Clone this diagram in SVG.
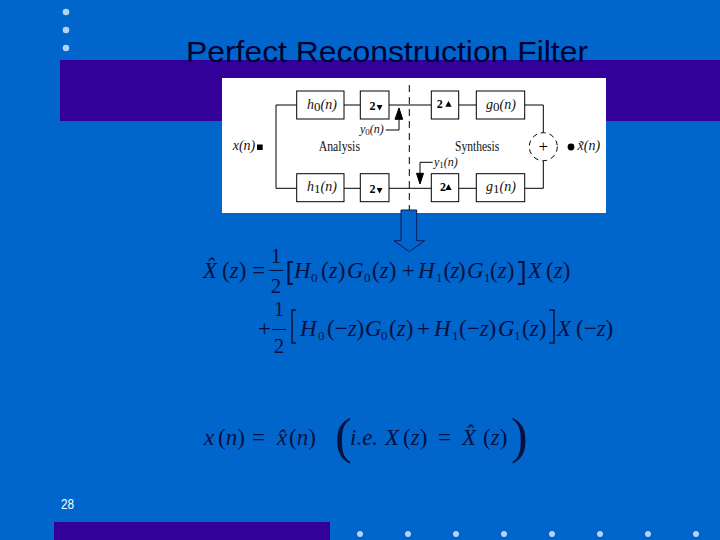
<svg xmlns="http://www.w3.org/2000/svg" width="720" height="540" viewBox="0 0 720 540">
<defs><style>
.dot{fill:#b5d3f0}
.box{fill:#fff;stroke:#000;stroke-width:1}
.ln{fill:none;stroke:#000;stroke-width:1}
.m{font-family:"Liberation Serif",serif;font-size:14px;fill:#111}
.i{font-style:italic}
.b{font-family:"Liberation Serif",serif;font-size:12px;font-weight:bold;fill:#000}
.e{font-family:"Liberation Serif",serif;font-size:23px;fill:#08103f}
.d{font-size:21px}
.u{font-size:13px}
.s{font-size:13px}
</style></defs>
<rect width="720" height="540" fill="#0066cc"/>
<rect x="60" y="60" width="660" height="61" fill="#330099"/>
<rect x="54" y="522" width="276" height="18" fill="#330099"/>
<g id="bullets-top" class="dot"><circle cx="66" cy="12" r="3.3"/><circle cx="66" cy="30" r="3.3"/><circle cx="66" cy="48" r="3.3"/></g>
<g id="bullets-bottom" class="dot"><circle cx="360" cy="534" r="3"/><circle cx="408" cy="534" r="3"/><circle cx="456" cy="534" r="3"/><circle cx="504" cy="534" r="3"/><circle cx="552" cy="534" r="3"/><circle cx="600" cy="534" r="3"/><circle cx="648" cy="534" r="3"/><circle cx="696" cy="534" r="3"/></g>
<text id="title" x="186" y="62" font-family="'Liberation Sans',Arial,sans-serif" font-size="30" fill="#000033" textLength="402" lengthAdjust="spacingAndGlyphs">Perfect Reconstruction Filter</text>
<text id="page" x="61" y="509" font-family="'Liberation Sans',Arial,sans-serif" font-size="14" fill="#fff" textLength="13" lengthAdjust="spacingAndGlyphs">28</text>
<rect id="panel" x="222" y="78" width="384" height="135" fill="#fff"/>
<g id="connectors" class="ln">
<path d="M296.700 105H276V188.300H296.700"/>
<path d="M344 105H360.300M389 105H431.300M458.700 105H476.300M524.700 105H543.300V132.700"/>
<path d="M344 188.300H360.300M389 188.300H431.300M458.700 188.300H476.300M524.700 188.300H543.300V160.700"/>
<path d="M409.300 85V210" stroke-dasharray="7 5"/>
<path d="M385.700 130H399V118"/>
<path d="M432.700 162.300H420V175"/>
<path d="M395 119.300L399 108L402.700 119.300Z" fill="#000"/>
<path d="M416.500 173.300L420 184L423.500 173.300Z" fill="#000"/>
</g>
<g id="h0"><rect class="box" x="296.700" y="91" width="47.300" height="28"/><text class="m i" x="307" y="108.500">h<tspan class="s" dy="2" font-style="normal">0</tspan><tspan dy="-2">(n)</tspan></text></g>
<g id="down-top"><rect class="box" x="360.300" y="91" width="28.700" height="28"/><text class="b" x="369.500" y="110">2</text><path d="M376.700 105H382.500L379.600 110.500Z"/></g>
<g id="up-top"><rect class="box" x="431.300" y="91" width="27.400" height="28"/><text class="b" x="436.700" y="107.500">2</text><path d="M445.300 106.700H451.700L448.500 101Z"/></g>
<g id="g0"><rect class="box" x="476.300" y="91" width="48.400" height="28"/><text class="m i" x="486" y="108.500">g<tspan class="s" dy="2" font-style="normal">0</tspan><tspan dy="-2">(n)</tspan></text></g>
<g id="h1"><rect class="box" x="296.700" y="173.700" width="47.300" height="28"/><text class="m i" x="307" y="191">h<tspan class="s" dy="2" font-style="normal">1</tspan><tspan dy="-2">(n)</tspan></text></g>
<g id="down-bottom"><rect class="box" x="360.300" y="173.700" width="28.700" height="28"/><text class="b" x="369.500" y="193">2</text><path d="M376.700 188H382.500L379.600 193.500Z"/></g>
<g id="up-bottom"><rect class="box" x="431.300" y="173.700" width="27.400" height="28"/><text class="b" x="440" y="191">2</text><path d="M445.300 190H451.700L448.500 184.300Z"/></g>
<g id="g1"><rect class="box" x="476.300" y="173.700" width="48.400" height="28"/><text class="m i" x="486" y="191">g<tspan class="s" dy="2" font-style="normal">1</tspan><tspan dy="-2">(n)</tspan></text></g>
<g id="sum"><circle cx="543.300" cy="146.700" r="14" fill="#fff" stroke="#000" stroke-dasharray="5 4"/><text x="543.300" y="152" text-anchor="middle" font-family="'Liberation Serif',serif" font-size="17" fill="#000">+</text></g>
<g id="input"><text class="m i" x="232.700" y="150">x(n)</text><rect x="257" y="144.500" width="5.700" height="5.500"/></g>
<g id="output"><circle cx="571" cy="147" r="3.400"/><text class="m i" x="577.500" y="150">x̃(n)</text></g>
<g id="labels">
<text class="m" x="318.700" y="151" textLength="41.300" lengthAdjust="spacingAndGlyphs">Analysis</text>
<text class="m" x="455" y="151" textLength="44.300" lengthAdjust="spacingAndGlyphs">Synthesis</text>
<text class="m i" x="360" y="133" style="font-size:12px">y<tspan font-style="normal" font-size="9" dy="2">0</tspan><tspan dy="-2">(n)</tspan></text>
<text class="m i" x="434" y="165.700" style="font-size:12px">y<tspan font-style="normal" font-size="9" dy="2">1</tspan><tspan dy="-2">(n)</tspan></text>
</g>
<path id="block-arrow" d="M401 210H416.700V240.700H424.700L409.300 251.700L394 240.700H401Z" fill="#0066cc" stroke="#0b1a55" stroke-width="1"/>
<g id="eq1" class="e">
<text x="203" y="278" font-style="italic">X̂</text><text x="222" y="278">(<tspan font-style="italic">z</tspan>)</text><text x="252" y="278">=</text>
<text class="d" x="276" y="263" text-anchor="middle">1</text><text class="d" x="276" y="293" text-anchor="middle">2</text><rect x="269" y="270" width="14" height="1" fill="#08103f"/>
<path d="M293 262H288.500V284H293" fill="none" stroke="#08103f" stroke-width="2.200"/>
<text x="294" y="278" font-style="italic">H</text><text class="u" x="311" y="282">0</text><text x="321" y="278">(<tspan font-style="italic">z</tspan>)</text>
<text x="347" y="278" font-style="italic">G</text><text class="u" x="364" y="282">0</text><text x="372" y="278">(<tspan font-style="italic">z</tspan>)</text>
<text x="402" y="278">+</text>
<text x="418" y="278" font-style="italic">H</text><text class="u" x="436" y="282">1</text><text x="443.500" y="278">(<tspan x="450.500" font-style="italic">z</tspan><tspan x="458">)</tspan><tspan x="467" font-style="italic">G</tspan></text>
<text class="u" x="484" y="282">1</text><text x="490" y="278">(<tspan font-style="italic">z</tspan>)</text>
<path d="M518 262H523.500V284H518" fill="none" stroke="#08103f" stroke-width="2.200"/>
<text x="528" y="278" font-style="italic">X</text><text x="546" y="278">(<tspan font-style="italic">z</tspan>)</text>
</g>
<g id="eq2" class="e">
<text x="258" y="336">+</text>
<text class="d" x="279" y="316" text-anchor="middle">1</text><text class="d" x="279" y="353" text-anchor="middle">2</text><rect x="272" y="329" width="14" height="1" fill="#08103f"/>
<path d="M296 310H292V343H296" fill="none" stroke="#08103f" stroke-width="1.500"/>
<text x="300" y="336" font-style="italic">H</text><text class="u" x="318" y="340">0</text><text x="327" y="336">(−<tspan font-style="italic">z</tspan>)</text>
<text x="365" y="336" font-style="italic">G</text><text class="u" x="381" y="340">0</text><text x="389" y="336">(<tspan font-style="italic">z</tspan>)</text>
<text x="417" y="336">+</text>
<text x="434" y="336" font-style="italic">H</text><text class="u" x="452" y="340">1</text><text x="459" y="336">(−<tspan font-style="italic">z</tspan>)</text>
<text x="498" y="336" font-style="italic">G</text><text class="u" x="514" y="340">1</text><text x="522" y="336">(<tspan font-style="italic">z</tspan>)</text>
<path d="M549 310H554V343H549" fill="none" stroke="#08103f" stroke-width="1.500"/>
<text x="557" y="336" font-style="italic">X</text><text x="576" y="336">(−<tspan font-style="italic">z</tspan>)</text>
</g>
<g id="eq3" class="e">
<text x="204" y="445" font-style="italic">x</text><text x="218" y="445">(<tspan font-style="italic">n</tspan>)</text><text x="252" y="445">=</text>
<text x="277" y="445" font-style="italic">x̂</text><text x="289" y="445">(<tspan font-style="italic">n</tspan>)</text>
<text x="350" y="445" font-style="italic">i.e.</text><text x="385" y="445" font-style="italic">X</text><text x="403" y="445">(<tspan font-style="italic">z</tspan>)</text><text x="438" y="445">=</text>
<text x="462" y="445" font-style="italic">X̂</text><text x="483" y="445">(<tspan font-style="italic">z</tspan>)</text>
<text x="335" y="453" style="font-size:50px">(</text><text x="511" y="453" style="font-size:50px">)</text>
</g>
</svg>
